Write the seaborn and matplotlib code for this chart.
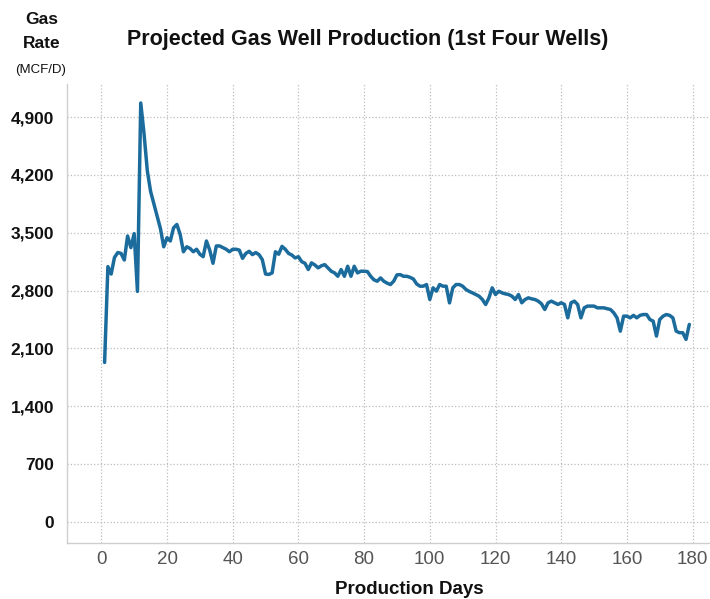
import pandas as pd
import seaborn as sns
import matplotlib.pyplot as plt
from matplotlib.ticker import FuncFormatter

# daily gas rate (MCF/D)
days = list(range(1, 180))
gas_rate = [
    1930, 3090, 3000, 3200, 3260, 3250, 3170, 3460, 3320, 3490,
    2790, 5070, 4700, 4250, 4000, 3850, 3700, 3550, 3330, 3440,
    3400, 3560, 3600, 3480, 3270, 3330, 3310, 3270, 3300, 3240,
    3210, 3400, 3290, 3130, 3340, 3340, 3320, 3300, 3270, 3300,
    3300, 3290, 3190, 3250, 3275, 3235, 3260, 3235, 3175, 3000,
    2995, 3014, 3270, 3240, 3335, 3300, 3250, 3230, 3195, 3210,
    3150, 3130, 3055, 3135, 3110, 3075, 3100, 3114, 3074, 3034,
    3014, 2973, 3054, 2973, 3094, 2973, 3094, 3014, 3034, 3034,
    3030, 2973, 2930, 2913, 2953, 2913, 2890, 2873, 2913, 2990,
    2993, 2973, 2973, 2960, 2940, 2880, 2853, 2853, 2873, 2692,
    2833, 2793, 2873, 2853, 2853, 2651, 2833, 2873, 2873, 2853,
    2813, 2790, 2772, 2752, 2732, 2692, 2631, 2712, 2833, 2752,
    2792, 2772, 2760, 2752, 2732, 2692, 2752, 2652, 2692, 2712,
    2700, 2692, 2672, 2640, 2571, 2652, 2672, 2652, 2632, 2652,
    2632, 2470, 2652, 2672, 2632, 2470, 2591, 2612, 2612, 2612,
    2591, 2591, 2591, 2580, 2571, 2531, 2470, 2309, 2491, 2490,
    2470, 2500, 2470, 2500, 2510, 2510, 2450, 2430, 2249, 2450,
    2490, 2510, 2500, 2470, 2309, 2290, 2290, 2209, 2390,
]
x_ticks = [0, 20, 40, 60, 80, 100, 120, 140, 160, 180]
y_ticks = [0, 700, 1400, 2100, 2800, 3500, 4200, 4900]

df = pd.DataFrame({'day': days, 'rate': gas_rate})

sns.set_theme(style='whitegrid')
plt.rcParams['font.family'] = ['Liberation Sans', 'DejaVu Sans']

W, H = 710, 599
fig = plt.figure(figsize=(W / 100, H / 100), dpi=100)
fig.patch.set_facecolor('white')
ax = fig.add_axes([66.5 / W, (H - 543) / H, 1 - 66.5 / W, (543 - 84) / H])
ax.set_facecolor('white')

sns.lineplot(data=df, x='day', y='rate', ax=ax, color='#1b6c9c', linewidth=2.5)

ax.set_xlim(-10.6, 185.3)
ax.set_ylim(-255, 5300)
ax.set_xticks(x_ticks)
ax.set_yticks(y_ticks)
ax.yaxis.set_major_formatter(FuncFormatter(lambda v, p: f'{int(v):,}'))
ax.set_xlabel('')
ax.set_ylabel('')

ax.grid(True, linestyle=':', color='#bdbdbd', linewidth=0.9)
for side in ['top', 'right']:
    ax.spines[side].set_visible(False)
for side in ['left', 'bottom']:
    ax.spines[side].set_color('#cfcfcf')
    ax.spines[side].set_linewidth(1.0)

ax.tick_params(axis='y', length=0, pad=9, labelsize=12.5, labelcolor='#111111')
ax.tick_params(axis='x', length=0, pad=6, labelsize=13.5, labelcolor='#555555')
for lab in ax.get_yticklabels():
    lab.set_fontweight('bold')

# titles and axis captions
fig.text(368 / W, 1 - 40 / H, 'Projected Gas Well Production (1st Four Wells)',
         ha='center', va='center', fontsize=15.5, fontweight='bold', color='#111111')
fig.text(42 / W, 1 - 20 / H, 'Gas', ha='center', va='center',
         fontsize=12.5, fontweight='bold', color='#111111')
fig.text(42 / W, 1 - 44 / H, 'Rate', ha='center', va='center',
         fontsize=12.5, fontweight='bold', color='#111111')
fig.text(41 / W, 1 - 70 / H, '(MCF/D)', ha='center', va='center',
         fontsize=9.5, color='#111111')
fig.text(409 / W, 1 - 590 / H, 'Production Days', ha='center', va='center',
         fontsize=13.5, fontweight='bold', color='#111111')

fig.savefig('out.png', dpi=100)
